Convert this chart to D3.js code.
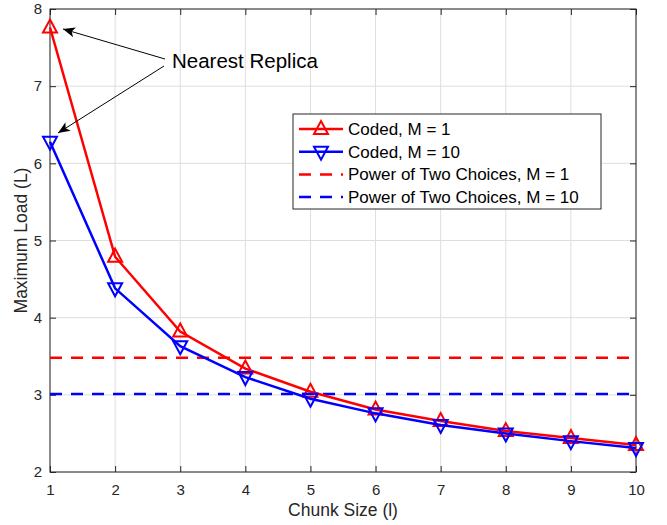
<!DOCTYPE html>
<html>
<head>
<meta charset="utf-8">
<script src="https://cdn.jsdelivr.net/npm/d3@7"></script>
<style>
  body { margin: 0; background: #fff; }
  svg { font-family: "Liberation Sans", Arial, sans-serif; }
</style>
</head>
<body>
<svg id="chart"></svg>
<script>
const chunkSizes = [1, 2, 3, 4, 5, 6, 7, 8, 9, 10];
const codedM1 = [7.76, 4.79, 3.82, 3.34, 3.04, 2.81, 2.66, 2.53, 2.44, 2.35];
const codedM10 = [6.28, 4.38, 3.63, 3.23, 2.95, 2.76, 2.61, 2.50, 2.40, 2.31];
const powerTwoM1 = 3.48;
const powerTwoM10 = 3.01;
const xTicks = [1, 2, 3, 4, 5, 6, 7, 8, 9, 10];
const yTicks = [2, 3, 4, 5, 6, 7, 8];
const legendLabels = ["Coded, M = 1", "Coded, M = 10", "Power of Two Choices, M = 1", "Power of Two Choices, M = 10"];

const width = 667, height = 525;
const margin = { top: 9, right: 31, bottom: 53, left: 50 };
const innerW = width - margin.left - margin.right;
const innerH = height - margin.top - margin.bottom;
const axisColor = "#262626";

const svg = d3.select("#chart").attr("width", width).attr("height", height);
const g = svg.append("g").attr("transform", `translate(${margin.left},${margin.top})`);

const x = d3.scaleLinear().domain([1, 10]).range([0, innerW]);
const y = d3.scaleLinear().domain([2, 8]).range([innerH, 0]);

// grid
g.append("g").selectAll("line").data(xTicks).enter().append("line")
    .attr("x1", d => x(d)).attr("x2", d => x(d))
    .attr("y1", 0).attr("y2", innerH)
    .attr("stroke", "#dedede").attr("stroke-width", 1);
g.append("g").selectAll("line").data(yTicks).enter().append("line")
    .attr("x1", 0).attr("x2", innerW)
    .attr("y1", d => y(d)).attr("y2", d => y(d))
    .attr("stroke", "#dedede").attr("stroke-width", 1);

// axes (ticks inside like matlab)
const styleAxis = (sel) => {
    sel.select(".domain").remove();
    sel.selectAll("line").attr("stroke", axisColor);
    sel.selectAll("text").attr("fill", axisColor).style("font-size", "15px");
};
g.append("g").attr("transform", `translate(0,${innerH})`)
    .call(d3.axisBottom(x).tickValues(xTicks).tickSize(-6).tickPadding(12).tickFormat(d3.format("d")))
    .call(styleAxis);
g.append("g")
    .call(d3.axisLeft(y).tickValues(yTicks).tickSize(-6).tickPadding(8).tickFormat(d3.format("d")))
    .call(styleAxis);
g.append("g")
    .call(d3.axisTop(x).tickValues(xTicks).tickSize(-6).tickFormat(""))
    .call(styleAxis);
g.append("g").attr("transform", `translate(${innerW},0)`)
    .call(d3.axisRight(y).tickValues(yTicks).tickSize(-6).tickFormat(""))
    .call(styleAxis);
g.append("rect").attr("width", innerW).attr("height", innerH)
    .attr("fill", "none").attr("stroke", axisColor).attr("stroke-width", 1);

// dashed reference lines
[[powerTwoM1, "#ff0000"], [powerTwoM10, "#0000ff"]].forEach(([v, c]) => {
    g.append("line")
        .attr("x1", 0).attr("x2", innerW)
        .attr("y1", y(v)).attr("y2", y(v))
        .attr("stroke", c).attr("stroke-width", 2.5)
        .attr("stroke-dasharray", "12,9");
});

const line = d3.line().x((d, i) => x(chunkSizes[i])).y(d => y(d));
const triUp = "M0,-8L7,5L-7,5Z";
const triDown = "M0,8L7,-5L-7,-5Z";

const series = [
    { vals: codedM1, color: "#ff0000", marker: triUp },
    { vals: codedM10, color: "#0000ff", marker: triDown }
];
series.forEach(s => {
    g.append("path").datum(s.vals)
        .attr("fill", "none").attr("stroke", s.color).attr("stroke-width", 2.5)
        .attr("d", line);
    g.append("g").selectAll("path").data(s.vals).enter().append("path")
        .attr("transform", (d, i) => `translate(${x(chunkSizes[i])},${y(d)})`)
        .attr("d", s.marker)
        .attr("fill", "none").attr("stroke", s.color).attr("stroke-width", 2);
});

// axis labels
svg.append("text")
    .attr("x", margin.left + innerW / 2).attr("y", 516)
    .attr("text-anchor", "middle").attr("fill", axisColor)
    .style("font-size", "17.5px").text("Chunk Size (l)");
svg.append("text")
    .attr("transform", `translate(27,${margin.top + innerH / 2}) rotate(-90)`)
    .attr("text-anchor", "middle").attr("fill", axisColor)
    .style("font-size", "17.5px").text("Maximum Load (L)");

// annotation
const defs = svg.append("defs");
defs.append("marker").attr("id", "arrow")
    .attr("viewBox", "0 0 12 10").attr("refX", 12).attr("refY", 5)
    .attr("markerWidth", 12).attr("markerHeight", 10)
    .attr("markerUnits", "userSpaceOnUse").attr("orient", "auto")
    .append("path").attr("d", "M0,0L12,5L0,10L3,5Z").attr("fill", "#000");
svg.append("line")
    .attr("x1", 165).attr("y1", 59).attr("x2", 63).attr("y2", 29)
    .attr("stroke", "#000").attr("stroke-width", 1).attr("marker-end", "url(#arrow)");
svg.append("line")
    .attr("x1", 164).attr("y1", 66).attr("x2", 58).attr("y2", 133)
    .attr("stroke", "#000").attr("stroke-width", 1).attr("marker-end", "url(#arrow)");
svg.append("text")
    .attr("x", 172).attr("y", 68).attr("fill", "#000")
    .style("font-size", "20.5px").text("Nearest Replica");

// legend
const lg = svg.append("g").attr("transform", "translate(293,114)");
lg.append("rect").attr("width", 308).attr("height", 95)
    .attr("fill", "#fff").attr("stroke", axisColor).attr("stroke-width", 1);
const legendItems = [
    { color: "#ff0000", marker: triUp, dashed: false },
    { color: "#0000ff", marker: triDown, dashed: false },
    { color: "#ff0000", marker: null, dashed: true },
    { color: "#0000ff", marker: null, dashed: true }
];
legendItems.forEach((it, i) => {
    const cy = 15 + i * 22.7;
    lg.append("line")
        .attr("x1", 6).attr("x2", 50).attr("y1", cy).attr("y2", cy)
        .attr("stroke", it.color).attr("stroke-width", 2.5)
        .attr("stroke-dasharray", it.dashed ? "12,9" : null);
    if (it.marker) {
        lg.append("path").attr("transform", `translate(28,${cy})`)
            .attr("d", it.marker).attr("fill", "none")
            .attr("stroke", it.color).attr("stroke-width", 2);
    }
    lg.append("text").attr("x", 55).attr("y", cy + 6)
        .attr("fill", "#000").style("font-size", "17px").text(legendLabels[i]);
});
</script>
</body>
</html>
